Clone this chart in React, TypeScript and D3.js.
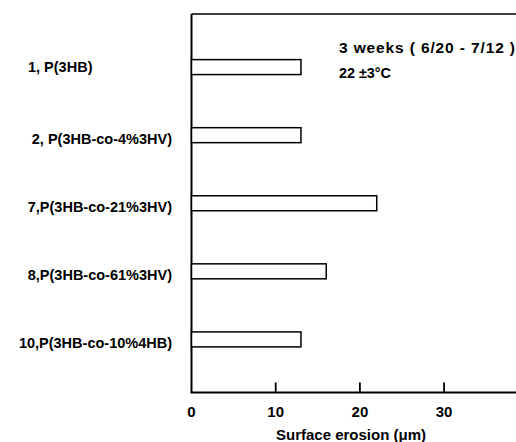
import React from 'react';
import * as d3 from 'd3';

const samples = [
  '1, P(3HB)',
  '2, P(3HB-co-4%3HV)',
  '7,P(3HB-co-21%3HV)',
  '8,P(3HB-co-61%3HV)',
  '10,P(3HB-co-10%4HB)'
];
const erosion = [13, 13, 22, 16, 13];
const xTicks = [0, 10, 20, 30];
const noteLines = ['3 weeks ( 6/20 - 7/12 )', '22 \u00B13\u00B0C'];
const xTitle = 'Surface erosion (\u03BCm)';

const width = 516;
const height = 442;
const font = '"Liberation Sans", Arial, sans-serif';

const App = () => {
  const x = d3.scaleLinear().domain([0, 40]).range([191.5, 528.3]);
  const y = d3.scaleBand<string>()
    .domain(samples)
    .range([14, 392.5])
    .paddingInner(0.78)
    .paddingOuter(0.67);

  const x0 = x(0);
  const yTop = y.range()[0];
  const yBottom = y.range()[1];

  return (
    <svg
      width={width}
      height={height}
      style={{ position: 'absolute', left: 0, top: 0, background: 'white' }}
      fontFamily={font}
    >
      {/* frame: left axis, top line, bottom axis */}
      <line x1={x0} x2={x0} y1={yTop} y2={yBottom} stroke="#000" strokeWidth={2} />
      <line x1={x0} x2={width} y1={yTop} y2={yTop} stroke="#000" strokeWidth={1.6} />
      <line x1={x0 - 1} x2={width} y1={yBottom} y2={yBottom} stroke="#000" strokeWidth={2} />

      {/* ticks point up into the plot */}
      {xTicks.map(t => (
        <g key={t}>
          {t > 0 && (
            <line x1={x(t)} x2={x(t)} y1={yBottom - 10} y2={yBottom} stroke="#000" strokeWidth={1.8} />
          )}
          <text x={x(t)} y={417.3} textAnchor="middle" fontSize={15} fontWeight="bold">
            {t}
          </text>
        </g>
      ))}
      <text x={351} y={440} textAnchor="middle" fontSize={15} fontWeight="bold">
        {xTitle}
      </text>

      {/* bars */}
      {samples.map((s, i) => (
        <g key={s}>
          <rect
            x={x0}
            y={y(s)}
            width={x(erosion[i]) - x0}
            height={y.bandwidth()}
            fill="white"
            stroke="#000"
            strokeWidth={1.5}
          />
          <text
            x={i === 0 ? 28 : 172}
            y={(y(s) as number) + y.bandwidth() / 2 + (i === 0 ? 5 : 9)}
            textAnchor={i === 0 ? 'start' : 'end'}
            fontSize={14.5}
            fontWeight="bold"
          >
            {s}
          </text>
        </g>
      ))}

      {/* annotation */}
      <text x={339} y={53.3} fontSize={15.5} fontWeight="bold" textLength={176} lengthAdjust="spacing">
        {noteLines[0]}
      </text>
      <text x={339} y={78.3} fontSize={15.5} fontWeight="bold" textLength={52} lengthAdjust="spacingAndGlyphs">
        {noteLines[1]}
      </text>
    </svg>
  );
};

export default App;
